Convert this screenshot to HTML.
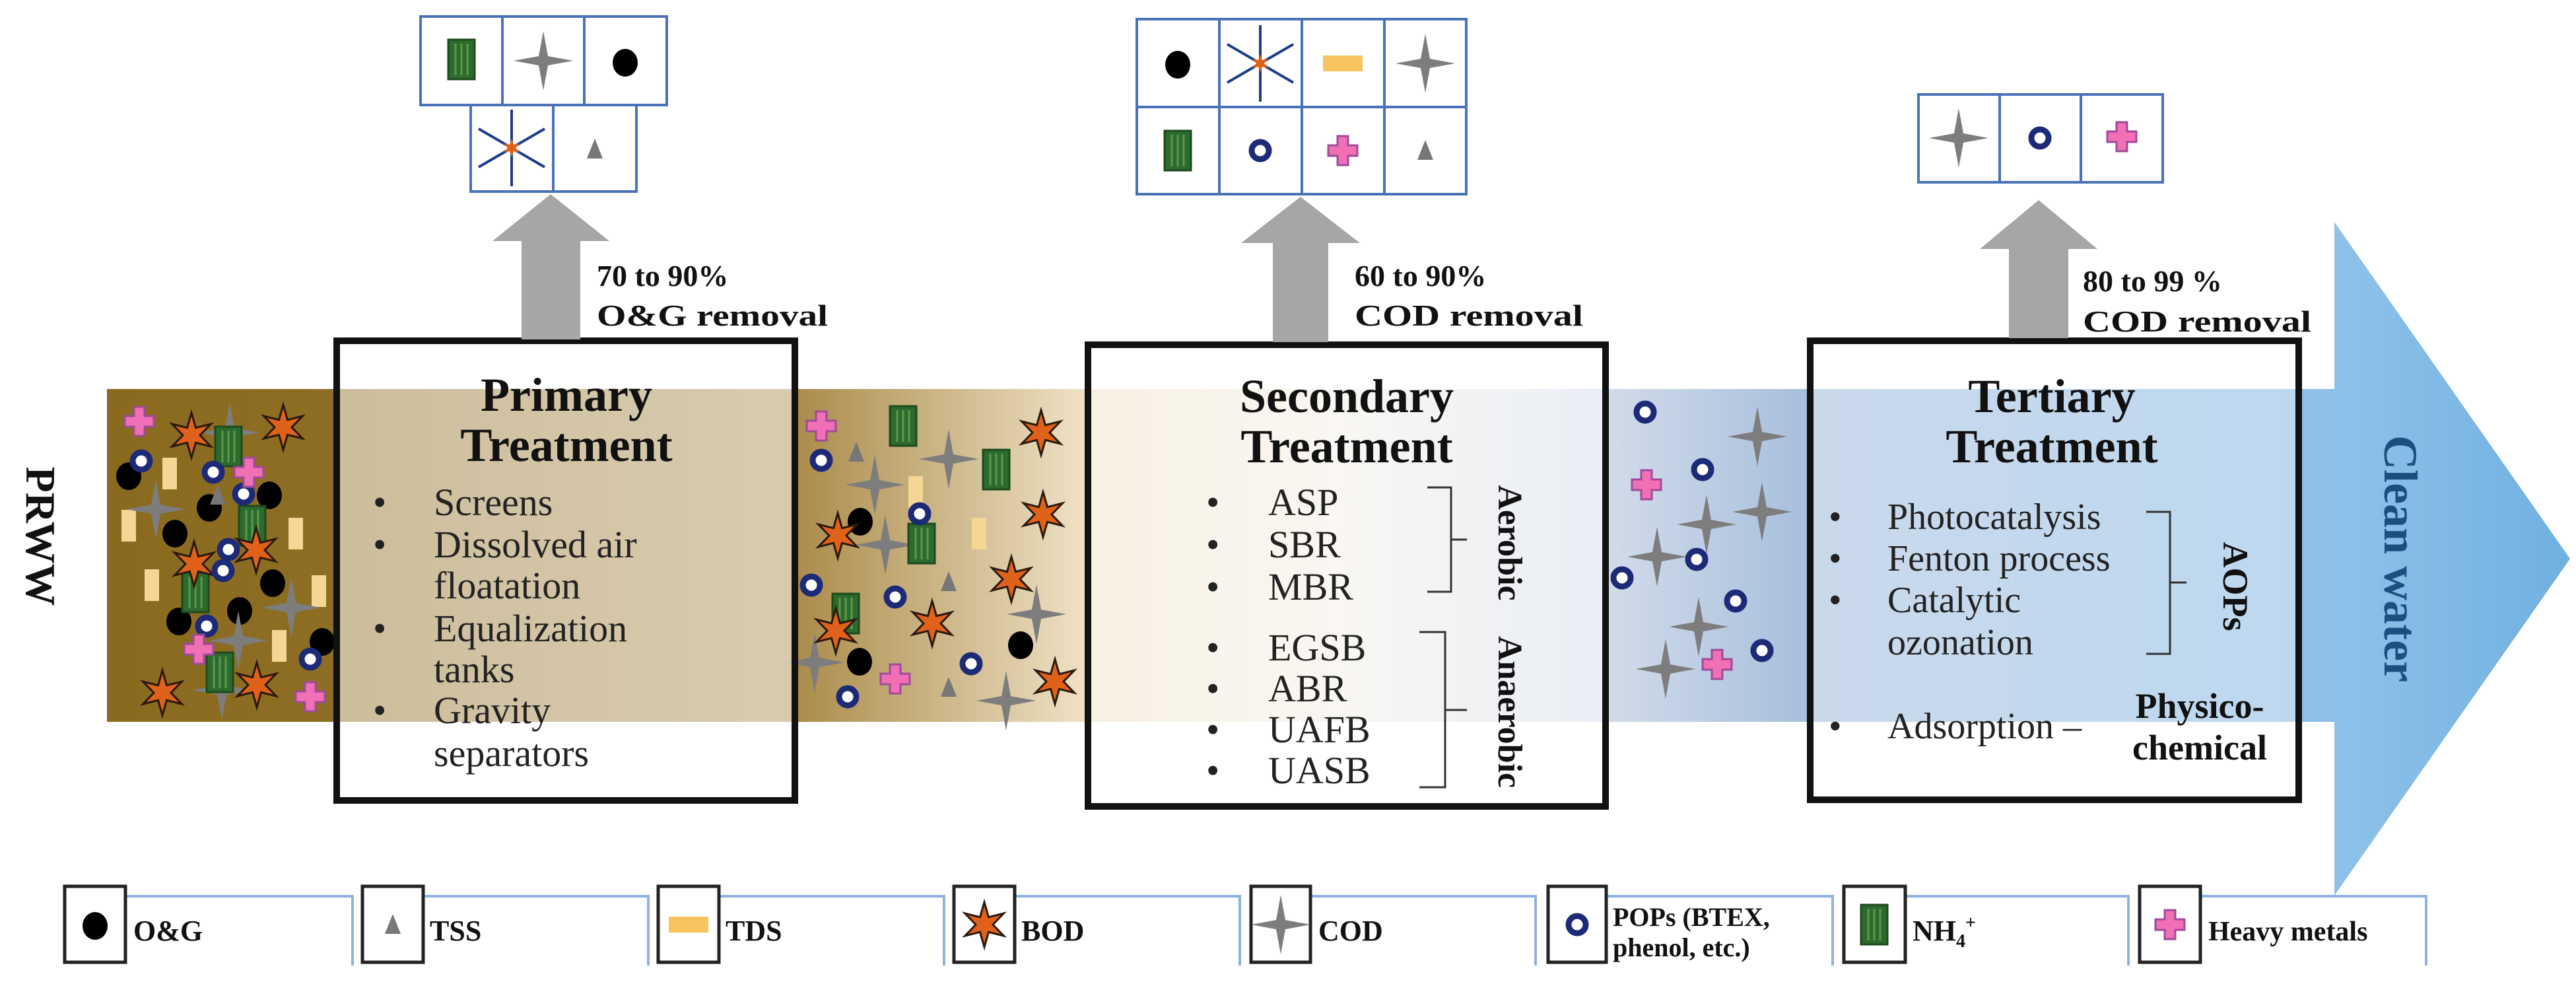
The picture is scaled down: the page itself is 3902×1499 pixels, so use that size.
<!DOCTYPE html>
<html><head><meta charset="utf-8"><style>
html,body{margin:0;padding:0;background:#fff;}
svg{display:block;font-family:"Liberation Serif","DejaVu Serif",serif;}
svg text{font-family:"Liberation Serif","DejaVu Serif",serif;}
</style></head><body>
<svg width="3902" height="1499" viewBox="0 0 3902 1499" xmlns="http://www.w3.org/2000/svg" font-family="Liberation Serif, serif">
<defs>
<linearGradient id="band" x1="162" y1="0" x2="3540" y2="0" gradientUnits="userSpaceOnUse">
<stop offset="0" stop-color="#8a6a1e"/>
<stop offset="0.10" stop-color="#8d6e24"/>
<stop offset="0.31" stop-color="#ab8c4c"/>
<stop offset="0.44" stop-color="#efe2c6"/>
<stop offset="0.55" stop-color="#f3eee6"/>
<stop offset="0.67" stop-color="#d3dcea"/>
<stop offset="0.76" stop-color="#a8c0dd"/>
<stop offset="1" stop-color="#8ebfe6"/>
</linearGradient>
<linearGradient id="head" x1="0" y1="0" x2="1" y2="0">
<stop offset="0" stop-color="#8fc2ea"/>
<stop offset="1" stop-color="#6fb0e0"/>
</linearGradient>
<g id="og"><ellipse rx="19" ry="21" fill="#000"/></g>
<g id="tss"><polygon points="0,-16 12,14 -12,14" fill="#777"/></g>
<g id="tdsv"><rect x="-11" y="-24" width="22" height="48" fill="#f6d694"/></g>
<g id="tdsh"><rect x="-30" y="-12" width="60" height="24" fill="#f7c45e"/></g>
<g id="bod"><polygon points="0,-34 6.5,-11.3 29.4,-17 13,0 29.4,17 6.5,11.3 0,34 -6.5,11.3 -29.4,17 -13,0 -29.4,-17 -6.5,-11.3" fill="#e0611a" stroke="#2a1a10" stroke-width="3"/></g>
<g id="bodr"><g stroke="#1d3c8a" stroke-width="4"><line x1="0" y1="-58" x2="0" y2="58"/><line x1="-50" y1="-29" x2="50" y2="29"/><line x1="-50" y1="29" x2="50" y2="-29"/></g><polygon points="0,-14 3,-5 12,-7 6,0 12,7 3,5 0,14 -3,5 -12,7 -6,0 -12,-7 -3,-5" fill="#e0611a"/></g>
<g id="cod"><path d="M0,-45 L7,-7 L45,0 L7,7 L0,45 L-7,7 L-45,0 L-7,-7 Z" fill="#7d7d7d"/></g>
<g id="pop"><circle r="13" fill="#fff" stroke="#1c2a78" stroke-width="9"/></g>
<g id="nh4"><rect x="-20" y="-30" width="40" height="60" fill="#2d6a2d" stroke="#1c4a1c" stroke-width="3"/><g stroke="#5a9a4a" stroke-width="3"><line x1="-9" y1="-24" x2="-9" y2="24"/><line x1="0" y1="-24" x2="0" y2="24"/><line x1="9" y1="-24" x2="9" y2="24"/></g></g>
<g id="hm"><polygon points="-8,-22 8,-22 8,-8 22,-8 22,8 8,8 8,22 -8,22 -8,8 -22,8 -22,-8 -8,-8" fill="#f06fb5" stroke="#a04a9a" stroke-width="3"/></g>
</defs>

<rect x="162" y="589" width="3380" height="504" fill="url(#band)"/>
<polygon points="3536,336 3893,846 3536,1356" fill="url(#head)"/>

<g>
<use href="#og" x="195" y="721"/><use href="#og" x="317" y="769"/><use href="#og" x="408" y="750"/><use href="#og" x="265" y="808"/><use href="#og" x="413" y="883"/><use href="#og" x="363" y="925"/><use href="#og" x="271" y="941"/><use href="#og" x="488" y="972"/>
<use href="#tdsv" x="257" y="717"/><use href="#tdsv" x="195" y="796"/><use href="#tdsv" x="448" y="808"/><use href="#tdsv" x="230" y="886"/><use href="#tdsv" x="483" y="895"/><use href="#tdsv" x="423" y="978"/>
<use href="#tss" x="330" y="750"/><use href="#tss" x="305" y="879"/>
<use href="#cod" x="348" y="655"/><use href="#cod" x="236" y="771"/><use href="#cod" x="441" y="920"/><use href="#cod" x="361" y="970"/><use href="#cod" x="336" y="1045"/>
<use href="#nh4" x="346" y="676"/><use href="#nh4" x="382" y="796"/><use href="#nh4" x="296" y="897"/><use href="#nh4" x="333" y="1018"/>
<use href="#bod" x="290" y="659"/><use href="#bod" x="429" y="647"/><use href="#bod" x="294" y="854"/><use href="#bod" x="388" y="833"/><use href="#bod" x="246" y="1049"/><use href="#bod" x="389" y="1037"/>
<use href="#pop" x="214" y="698"/><use href="#pop" x="323" y="715"/><use href="#pop" x="369" y="748"/><use href="#pop" x="346" y="832"/><use href="#pop" x="338" y="864"/><use href="#pop" x="313" y="948"/><use href="#pop" x="470" y="998"/>
<use href="#hm" x="211" y="638"/><use href="#hm" x="377" y="715"/><use href="#hm" x="301" y="983"/><use href="#hm" x="470" y="1055"/>
</g>
<g>
<use href="#tss" x="1297" y="685"/><use href="#tss" x="1437" y="881"/><use href="#tss" x="1437" y="1041"/>
<use href="#tdsv" x="1387" y="745"/><use href="#tdsv" x="1483" y="808"/>
<use href="#cod" x="1437" y="695"/><use href="#cod" x="1325" y="734"/><use href="#cod" x="1341" y="825"/><use href="#cod" x="1570" y="930"/><use href="#cod" x="1234" y="1003"/><use href="#cod" x="1524" y="1061"/>
<use href="#nh4" x="1368" y="645"/><use href="#nh4" x="1509" y="711"/><use href="#nh4" x="1396" y="823"/><use href="#nh4" x="1281" y="929"/>
<use href="#og" x="1303" y="790"/><use href="#og" x="1546" y="977"/><use href="#og" x="1302" y="1002"/>
<use href="#bod" x="1577" y="655"/><use href="#bod" x="1580" y="779"/><use href="#bod" x="1269" y="811"/><use href="#bod" x="1532" y="877"/><use href="#bod" x="1412" y="944"/><use href="#bod" x="1266" y="955"/><use href="#bod" x="1598" y="1032"/>
<use href="#pop" x="1244" y="697"/><use href="#pop" x="1393" y="778"/><use href="#pop" x="1229" y="886"/><use href="#pop" x="1356" y="904"/><use href="#pop" x="1471" y="1005"/><use href="#pop" x="1284" y="1055"/>
<use href="#hm" x="1244" y="645"/><use href="#hm" x="1356" y="1028"/>
</g>
<g>
<use href="#cod" x="2662" y="661"/><use href="#cod" x="2585" y="794"/><use href="#cod" x="2669" y="775"/><use href="#cod" x="2510" y="843"/><use href="#cod" x="2573" y="949"/><use href="#cod" x="2523" y="1013"/>
<use href="#pop" x="2492" y="624"/><use href="#pop" x="2579" y="711"/><use href="#pop" x="2570" y="847"/><use href="#pop" x="2457" y="875"/><use href="#pop" x="2629" y="910"/><use href="#pop" x="2669" y="985"/>
<use href="#hm" x="2494" y="734"/><use href="#hm" x="2601" y="1006"/>
</g>

<rect x="510" y="516" width="694" height="696" fill="#fff" fill-opacity="0.55" stroke="#111" stroke-width="10"/>
<rect x="1648" y="522" width="784" height="699" fill="#fff" fill-opacity="0.5" stroke="#111" stroke-width="10"/>
<rect x="2742" y="516" width="740" height="695" fill="#fff" fill-opacity="0.4" stroke="#111" stroke-width="10"/>

<g fill="#a6a6a6">
<polygon points="790,514 790,365 746,365 834,294 923,365 879,365 879,514"/>
<polygon points="1928,518 1928,368 1880,368 1970,298 2060,368 2012,368 2012,518"/>
<polygon points="3043,512 3043,377 2999,377 3088,303 3177,377 3133,377 3133,512"/>
</g>

<g fill="#fff" stroke="#4a72b8" stroke-width="4">
<rect x="637" y="25" width="124" height="134"/><rect x="761" y="25" width="124" height="134"/><rect x="885" y="25" width="125" height="134"/>
<rect x="713" y="159" width="125" height="131"/><rect x="838" y="159" width="126" height="131"/>
<rect x="1722" y="29" width="125" height="133"/><rect x="1847" y="29" width="125" height="133"/><rect x="1972" y="29" width="125" height="133"/><rect x="2097" y="29" width="124" height="133"/>
<rect x="1722" y="162" width="125" height="132"/><rect x="1847" y="162" width="125" height="132"/><rect x="1972" y="162" width="125" height="132"/><rect x="2097" y="162" width="124" height="132"/>
<rect x="2906" y="143" width="123" height="133"/><rect x="3029" y="143" width="123" height="133"/><rect x="3152" y="143" width="124" height="133"/>
</g>
<use href="#nh4" x="699" y="90"/><use href="#cod" x="823" y="92"/><use href="#og" x="947" y="95"/>
<use href="#bodr" x="775" y="224"/><use href="#tss" x="901" y="226"/>
<use href="#og" x="1784" y="98"/><use href="#bodr" x="1909" y="96"/><use href="#tdsh" x="2034" y="96"/><use href="#cod" x="2159" y="96"/>
<use href="#nh4" x="1784" y="228"/><use href="#pop" x="1909" y="228"/><use href="#hm" x="2034" y="228"/><use href="#tss" x="2159" y="228"/>
<use href="#cod" x="2967" y="209"/><use href="#pop" x="3090" y="209"/><use href="#hm" x="3214" y="207"/>

<g font-weight="bold" font-size="46" fill="#111">
<text x="904" y="433">70 to 90%</text>
<text x="904" y="493" textLength="350" lengthAdjust="spacingAndGlyphs">O&amp;G removal</text>
<text x="2052" y="433">60 to 90%</text>
<text x="2052" y="493" textLength="346" lengthAdjust="spacingAndGlyphs">COD removal</text>
<text x="3155" y="441">80 to 99 %</text>
<text x="3155" y="502" textLength="346" lengthAdjust="spacingAndGlyphs">COD removal</text>
</g>

<text transform="translate(40,812) rotate(90)" text-anchor="middle" font-weight="bold" font-size="64" fill="#111">PRWW</text>

<g fill="#111">
<text x="858" y="622" text-anchor="middle" font-weight="bold" font-size="72">Primary</text>
<text x="858" y="698" text-anchor="middle" font-weight="bold" font-size="72">Treatment</text>
<g font-size="58" fill="#222">
<text x="565" y="780">•</text><text x="657" y="780">Screens</text>
<text x="565" y="844">•</text><text x="657" y="844">Dissolved air</text>
<text x="657" y="906">floatation</text>
<text x="565" y="971">•</text><text x="657" y="971">Equalization</text>
<text x="657" y="1033">tanks</text>
<text x="565" y="1095">•</text><text x="657" y="1095">Gravity</text>
<text x="657" y="1160">separators</text>
</g>
</g>

<g fill="#111">
<text x="2040" y="624" text-anchor="middle" font-weight="bold" font-size="72">Secondary</text>
<text x="2040" y="700" text-anchor="middle" font-weight="bold" font-size="72">Treatment</text>
<g font-size="58" fill="#222">
<text x="1827" y="780">•</text><text x="1921" y="780">ASP</text>
<text x="1827" y="844">•</text><text x="1921" y="844">SBR</text>
<text x="1827" y="908">•</text><text x="1921" y="908">MBR</text>
<text x="1827" y="1000">•</text><text x="1921" y="1000">EGSB</text>
<text x="1827" y="1062">•</text><text x="1921" y="1062">ABR</text>
<text x="1827" y="1124">•</text><text x="1921" y="1124">UAFB</text>
<text x="1827" y="1186">•</text><text x="1921" y="1186">UASB</text>
</g>
<g fill="none" stroke="#333" stroke-width="3">
<path d="M2162,738 H2198 V896 H2162 M2198,817 H2222"/>
<path d="M2150,957 H2189 V1192 H2150 M2189,1075 H2222"/>
</g>
<text transform="translate(2270,822) rotate(90)" text-anchor="middle" font-weight="bold" font-size="52">Aerobic</text>
<text transform="translate(2270,1078) rotate(90)" text-anchor="middle" font-weight="bold" font-size="52">Anaerobic</text>
</g>

<g fill="#111">
<text x="3108" y="624" text-anchor="middle" font-weight="bold" font-size="72">Tertiary</text>
<text x="3108" y="700" text-anchor="middle" font-weight="bold" font-size="72">Treatment</text>
<g font-size="56" fill="#222">
<text x="2770" y="801">•</text><text x="2859" y="801">Photocatalysis</text>
<text x="2770" y="864">•</text><text x="2859" y="864">Fenton process</text>
<text x="2770" y="927">•</text><text x="2859" y="927">Catalytic</text>
<text x="2859" y="991">ozonation</text>
<text x="2770" y="1118">•</text><text x="2859" y="1118">Adsorption –</text>
</g>
<path d="M3251,775 H3287 V990 H3251 M3287,882 H3312" fill="none" stroke="#333" stroke-width="3"/>
<text transform="translate(3368,888) rotate(90)" text-anchor="middle" font-weight="bold" font-size="54">AOPs</text>
<text x="3332" y="1087" text-anchor="middle" font-weight="bold" font-size="54">Physico-</text>
<text x="3332" y="1150" text-anchor="middle" font-weight="bold" font-size="54">chemical</text>
</g>

<text transform="translate(3612,846) rotate(90)" text-anchor="middle" font-weight="bold" font-size="72" fill="#1b4f80">Clean water</text>

<g fill="none" stroke="#8fb2e0" stroke-width="4">
<path d="M192,1357 H534 V1462"/><path d="M639,1357 H982 V1462"/><path d="M1087,1357 H1430 V1462"/><path d="M1535,1357 H1878 V1462"/>
<path d="M1985,1357 H2326 V1462"/><path d="M2433,1357 H2776 V1462"/><path d="M2886,1357 H3224 V1462"/><path d="M3333,1357 H3675 V1462"/>
</g>
<g fill="#fff" stroke="#222" stroke-width="5">
<rect x="98" y="1342" width="92" height="115"/><rect x="549" y="1342" width="92" height="115"/><rect x="997" y="1342" width="92" height="115"/><rect x="1445" y="1342" width="92" height="115"/>
<rect x="1895" y="1342" width="90" height="115"/><rect x="2345" y="1342" width="88" height="115"/><rect x="2793" y="1342" width="93" height="115"/><rect x="3241" y="1342" width="92" height="115"/>
</g>
<use href="#og" x="144" y="1402"/>
<use href="#tss" x="595" y="1400"/>
<use href="#tdsh" x="1043" y="1400"/>
<use href="#bod" x="1491" y="1400"/>
<use href="#cod" x="1940" y="1400"/>
<use href="#pop" x="2389" y="1400"/>
<use href="#nh4" x="2839" y="1400"/>
<use href="#hm" x="3287" y="1400"/>
<g font-weight="bold" font-size="44" fill="#111">
<text x="202" y="1424">O&amp;G</text>
<text x="651" y="1424">TSS</text>
<text x="1099" y="1424">TDS</text>
<text x="1547" y="1424">BOD</text>
<text x="1997" y="1424">COD</text>
<text x="2443" y="1402" font-size="40">POPs (BTEX,</text>
<text x="2443" y="1448" font-size="40">phenol, etc.)</text>
<text x="2897" y="1424">NH<tspan font-size="28" dy="10">4</tspan><tspan font-size="28" dy="-28">+</tspan></text>
<text x="3345" y="1424" font-size="42">Heavy metals</text>
</g>
</svg>
</body></html>
